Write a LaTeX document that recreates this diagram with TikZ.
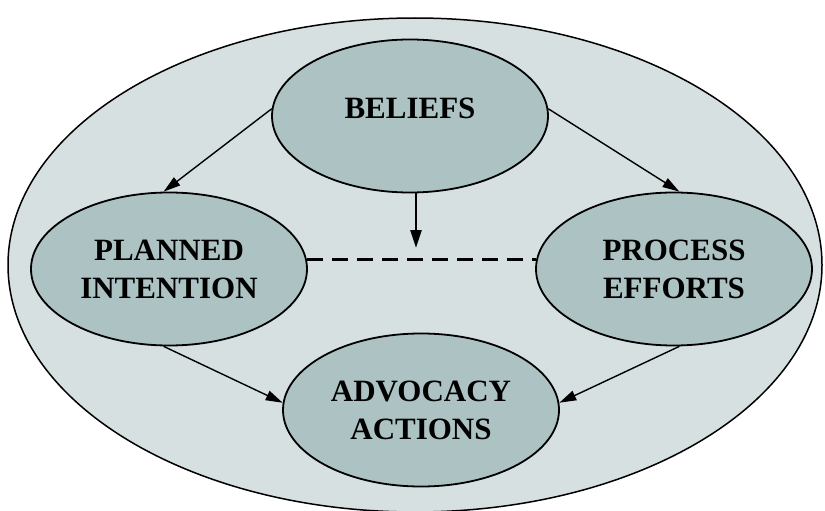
\documentclass[tikz,border=0pt]{standalone}
\usepackage{fontspec}
\setmainfont{Liberation Serif}
\usetikzlibrary{arrows.meta,shapes.geometric}
\definecolor{outerfill}{RGB}{214,224,224}
\definecolor{innerfill}{RGB}{173,195,195}
\begin{document}
\begin{tikzpicture}[x=1pt,y=-1pt,
  concept/.style={ellipse,draw=black,line width=1.8pt,fill=innerfill,
    minimum width=276pt,minimum height=153pt,inner sep=0pt,
    font=\fontsize{31}{38}\selectfont\bfseries,align=center},
  link/.style={line width=1.4pt,-{Triangle[length=17pt,width=10pt]}},
  strong/.style={line width=2.4pt,-{Triangle[length=18pt,width=11pt]}},
  tie/.style={line width=3pt,dash pattern=on 16pt off 9pt}]
\useasboundingbox (0,0) rectangle (825,511);
% enclosing field
\draw[fill=outerfill,line width=1.5pt] (415,265) ellipse [x radius=407,y radius=247];
% concepts
\node[concept,text height=4pt,text depth=0pt] (bel) at (410,116) {BELIEFS};
\node[concept] (pln) at (169,269) {PLANNED\\INTENTION};
\node[concept] (prc) at (674,269) {PROCESS\\EFFORTS};
\node[concept] (adv) at (421,410) {ADVOCACY\\ACTIONS};
% links
\coordinate (tip) at (416,248);
\draw[link] (bel.177) -- (pln.94);
\draw[link] (bel.3) -- (prc.86);
\draw[strong] (bel.south -| tip) -- (tip);
\draw[tie] (pln.4) -- (prc.176);
\draw[link] (pln.266) -- (adv.177);
\draw[link] (prc.274) -- (adv.3);
\end{tikzpicture}
\end{document}
